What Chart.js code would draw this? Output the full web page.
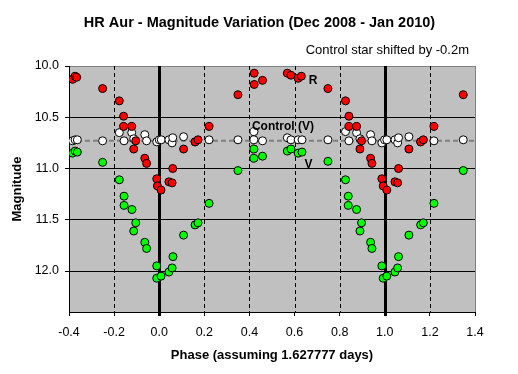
<!DOCTYPE html>
<html>
<head>
<meta charset="utf-8">
<title>HR Aur - Magnitude Variation</title>
<script src="https://cdn.jsdelivr.net/npm/chart.js@4.4.1/dist/chart.umd.min.js"></script>
<style>
  html, body { margin: 0; padding: 0; background: #fff; }
</style>
</head>
<body>
<canvas id="magChart" width="518" height="374"></canvas>
<script>
// R band (red points)
const rPhase = [-0.384, -0.373, -0.366, -0.251, -0.177, -0.158, -0.158, -0.122, -0.104, -0.113,
  -0.064, -0.056, -0.011, -0.008, 0.008, 0.043, 0.057, 0.060, 0.108, 0.159,
  0.172, 0.221, 0.349, 0.421, 0.421, 0.458, 0.568, 0.584, 0.616, 0.630,
  0.748, 0.826, 0.841, 0.841, 0.875, 0.897, 0.890, 0.937, 0.943, 0.987,
  0.993, 1.009, 1.045, 1.057, 1.061, 1.107, 1.159, 1.171, 1.218, 1.348];
const rMag = [10.13, 10.10, 10.11, 10.22, 10.34, 10.49, 10.59, 10.59, 10.73, 10.81,
  10.90, 10.95, 11.10, 11.17, 11.21, 11.13, 11.14, 11.00, 10.81, 10.74,
  10.72, 10.59, 10.28, 10.07, 10.18, 10.14, 10.07, 10.09, 10.12, 10.10,
  10.22, 10.34, 10.49, 10.59, 10.59, 10.73, 10.81, 10.90, 10.95, 11.10,
  11.17, 11.21, 11.13, 11.14, 11.00, 10.81, 10.74, 10.72, 10.59, 10.28];

// V band (green points)
const vPhase = [-0.384, -0.373, -0.363, -0.251, -0.177, -0.156, -0.156, -0.121, -0.104, -0.113,
  -0.064, -0.056, -0.011, -0.011, 0.008, 0.043, 0.057, 0.061, 0.108, 0.159,
  0.172, 0.221, 0.349, 0.420, 0.420, 0.458, 0.568, 0.584, 0.616, 0.633,
  0.748, 0.826, 0.838, 0.838, 0.875, 0.897, 0.890, 0.937, 0.943, 0.987,
  0.993, 1.009, 1.045, 1.057, 1.061, 1.107, 1.159, 1.171, 1.218, 1.348];
const vMag = [10.85, 10.83, 10.84, 10.94, 11.11, 11.27, 11.36, 11.40, 11.53, 11.61,
  11.72, 11.78, 11.95, 12.07, 12.05, 12.01, 11.97, 11.86, 11.65, 11.55,
  11.53, 11.34, 11.02, 10.81, 10.90, 10.88, 10.83, 10.81, 10.85, 10.84,
  10.93, 11.11, 11.27, 11.36, 11.40, 11.53, 11.61, 11.72, 11.78, 11.95,
  12.07, 12.05, 12.01, 11.97, 11.86, 11.65, 11.55, 11.53, 11.34, 11.02];

// control star, V (white points)
const cPhase = [-0.384, -0.373, -0.363, -0.251, -0.177, -0.156, -0.122, -0.113, -0.064, -0.056,
  -0.011, 0.000, 0.009, 0.043, 0.057, 0.060, 0.108, 0.159, 0.221, 0.349,
  0.420, 0.420, 0.458, 0.568, 0.584, 0.616, 0.633, 0.748, 0.826, 0.841,
  0.875, 0.890, 0.937, 0.943, 0.987, 0.999, 1.009, 1.045, 1.057, 1.061,
  1.107, 1.159, 1.218, 1.348];
const cMag = [10.73, 10.72, 10.72, 10.73, 10.65, 10.73, 10.65, 10.71, 10.67, 10.73,
  10.74, 10.72, 10.72, 10.72, 10.75, 10.70, 10.69, 10.74, 10.72, 10.72,
  10.64, 10.72, 10.73, 10.70, 10.72, 10.72, 10.72, 10.72, 10.64, 10.73,
  10.65, 10.71, 10.67, 10.73, 10.75, 10.72, 10.72, 10.72, 10.75, 10.70,
  10.69, 10.74, 10.73, 10.72];

// mean level of the control star
const controlPhase = [-0.4, 1.4];
const controlLevel = [10.73, 10.73];

const xTicks = [-0.4, -0.2, 0.0, 0.2, 0.4, 0.6, 0.8, 1.0, 1.2, 1.4];
const yTicks = [10.0, 10.5, 11.0, 11.5, 12.0];
const wholePhases = [0.0, 1.0];

const FONT = 'Arial, "Liberation Sans", sans-serif';
Chart.defaults.font.family = FONT;
Chart.defaults.color = "#000";

function pts(xs, ys) {
  return xs.map((x, i) => ({ x: x, y: ys[i] }));
}

// background, grid lines, frame and in-plot texts
const decor = {
  id: "decor",
  beforeDraw(chart) {
    const { ctx, chartArea: a } = chart;
    ctx.save();
    ctx.fillStyle = "#c0c0c0";
    ctx.fillRect(a.left, a.top, a.right - a.left, a.bottom - a.top);
    ctx.restore();
  },
  beforeDatasetsDraw(chart) {
    const { ctx, chartArea: a, scales: { x } } = chart;
    ctx.save();
    ctx.strokeStyle = "#000";
    xTicks.forEach(v => {
      if (v <= x.min || v >= x.max) return;
      const px = Math.round(x.getPixelForValue(v));
      ctx.beginPath();
      if (wholePhases.includes(v)) {
        ctx.lineWidth = 3;
        ctx.setLineDash([]);
        ctx.moveTo(px + 0.5, a.top);
        ctx.lineTo(px + 0.5, a.bottom + 4);
      } else {
        ctx.lineWidth = 1;
        ctx.setLineDash([4, 3]);
        ctx.moveTo(px + 0.5, a.top);
        ctx.lineTo(px + 0.5, a.bottom);
      }
      ctx.stroke();
    });
    // right frame
    ctx.setLineDash([]);
    ctx.lineWidth = 1;
    ctx.strokeStyle = "#808080";
    ctx.beginPath();
    ctx.moveTo(Math.round(a.right) + 0.5, a.top);
    ctx.lineTo(Math.round(a.right) + 0.5, a.bottom);
    ctx.stroke();
    ctx.restore();
  },
  afterDatasetsDraw(chart) {
    const { ctx, scales: { x, y } } = chart;
    ctx.save();
    ctx.fillStyle = "#000";
    ctx.textBaseline = "middle";
    ctx.font = "bold 12px " + FONT;
    ctx.textAlign = "center";
    ctx.fillText("R", x.getPixelForValue(0.682), y.getPixelForValue(10.14));
    ctx.fillText("V", x.getPixelForValue(0.662), y.getPixelForValue(10.96));
    ctx.textAlign = "left";
    ctx.fillText("Control (V)", x.getPixelForValue(0.411), y.getPixelForValue(10.59));

    ctx.textAlign = "center";
    ctx.font = "bold 14.5px " + FONT;
    ctx.fillText("HR Aur - Magnitude Variation (Dec 2008 - Jan 2010)", 259.5, 23);
    ctx.textAlign = "right";
    ctx.font = "13px " + FONT;
    ctx.fillText("Control star shifted by -0.2m", 469, 50);
    ctx.restore();
  }
};

const marker = {
  pointRadius: 4,
  pointHoverRadius: 4,
  pointBorderColor: "#000",
  pointBorderWidth: 1,
  showLine: false
};

new Chart(document.getElementById("magChart"), {
  type: "scatter",
  data: {
    datasets: [
      Object.assign({ label: "R", data: pts(rPhase, rMag), pointBackgroundColor: "#ff0000" }, marker),
      Object.assign({ label: "V", data: pts(vPhase, vMag), pointBackgroundColor: "#00ff00" }, marker),
      Object.assign({ label: "Control (V)", data: pts(cPhase, cMag), pointBackgroundColor: "#ffffff" }, marker),
      {
        type: "line",
        label: "Control mean",
        data: pts(controlPhase, controlLevel),
        borderColor: "#808080",
        borderWidth: 2,
        borderDash: [5, 3],
        pointRadius: 0,
        fill: false
      }
    ]
  },
  options: {
    responsive: false,
    animation: false,
    layout: { padding: { top: 66, right: 43, left: 0, bottom: 0 } },
    plugins: {
      legend: { display: false },
      tooltip: { enabled: false },
      title: { display: false }
    },
    scales: {
      x: {
        type: "linear",
        min: -0.4,
        max: 1.4,
        afterBuildTicks: s => { s.ticks = xTicks.map(v => ({ value: v })); },
        afterFit: s => { s.height = 62; },
        ticks: {
          font: { size: 12.5 },
          padding: 9,
          maxRotation: 0,
          callback: v => Number(v).toFixed(1)
        },
        grid: { drawOnChartArea: false, drawTicks: true, tickLength: 4, tickColor: "#000" },
        border: { color: "#000", width: 1 },
        title: {
          display: true,
          text: "Phase (assuming 1.627777 days)",
          font: { size: 13, weight: "bold" },
          padding: { top: 0, bottom: 11 }
        }
      },
      y: {
        type: "linear",
        reverse: true,
        min: 10.0,
        max: 12.4,
        afterBuildTicks: s => { s.ticks = yTicks.map(v => ({ value: v })); },
        afterFit: s => { s.width = 69; },
        ticks: {
          font: { size: 12.5 },
          padding: 6,
          callback: v => Number(v).toFixed(1)
        },
        grid: {
          color: c => (c.tick && c.tick.value === 10 ? "#808080" : "#000"),
          lineWidth: 1,
          tickLength: 4,
          tickColor: "#000"
        },
        border: { color: "#000", width: 1 },
        title: {
          display: true,
          text: "Magnitude",
          font: { size: 13, weight: "bold" },
          padding: { top: 10, bottom: 0 }
        }
      }
    }
  },
  plugins: [decor]
});
</script>
</body>
</html>
